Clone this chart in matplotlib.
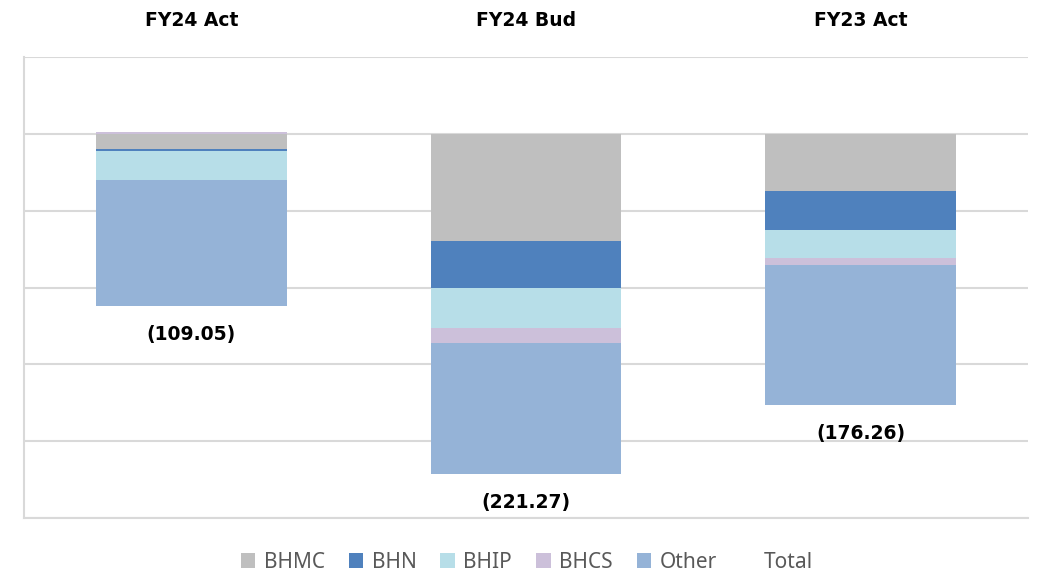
import matplotlib.pyplot as plt
import matplotlib.patches as mpatches
import numpy as np

plt.rcParams['font.family'] = ['Noto Sans', 'DejaVu Sans']
BOLD_FONT = ['DejaVu Sans']

# data (values in the chart's units)
categories = ['FY24 Act', 'FY24 Bud', 'FY23 Act']
series = ['BHMC', 'BHN', 'BHIP', 'BHCS', 'Other']
bhmc = [-10.0, -69.9, -37.5]
bhn = [-1.3, -30.4, -25.2]
bhip = [-19.0, -25.9, -18.1]
bhcs = [1.2, -9.7, -4.5]
other = [-81.5, -85.4, -91.0]
totals = [-109.05, -221.27, -176.26]

colors = ['#BFBFBF', '#4F81BD', '#B7DEE8', '#CCC0DA', '#95B3D7']
values = [bhmc, bhn, bhip, bhcs, other]

fig = plt.figure(figsize=(10.43, 5.76), dpi=100)
ax = fig.add_axes([0.023, 0.1007, 0.9627, 0.8003])

x = np.arange(len(categories))
pos_bottom = np.zeros(len(categories))
neg_bottom = np.zeros(len(categories))
for name, vals, c in zip(series, values, colors):
    vals = np.array(vals)
    bottom = np.where(vals >= 0, pos_bottom, neg_bottom)
    ax.bar(x, vals, width=0.57, bottom=bottom, color=c, label=name, zorder=3)
    pos_bottom = pos_bottom + np.where(vals >= 0, vals, 0)
    neg_bottom = neg_bottom + np.where(vals < 0, vals, 0)

# total labels under each bar
for xi, bot, t in zip(x, neg_bottom, totals):
    ax.annotate('({:.2f})'.format(abs(t)), (xi, bot), xytext=(0, -14),
                textcoords='offset points', ha='center', va='top',
                fontsize=13.5, fontweight='bold', family=BOLD_FONT,
                color='black')

ax.set_xlim(-0.5, 2.5)
ax.set_ylim(-250, 50)
ax.set_yticks(np.arange(-250, 51, 50))
ax.yaxis.grid(True, color='#D9D9D9', linewidth=1.5, zorder=0)
ax.tick_params(axis='y', left=False, labelleft=False)

ax.xaxis.tick_top()
ax.set_xticks(x)
ax.set_xticklabels(categories, fontsize=13.5, fontweight='bold',
                   family=BOLD_FONT)
ax.tick_params(axis='x', top=False, pad=16)

for s in ['top', 'right']:
    ax.spines[s].set_visible(False)
for s in ['left', 'bottom']:
    ax.spines[s].set_color('#D9D9D9')
    ax.spines[s].set_linewidth(1.5)

handles, labels = ax.get_legend_handles_labels()
handles.append(mpatches.Patch(color='none'))
labels.append('Total')
fig.legend(handles, labels, loc='lower center', bbox_to_anchor=(0.505, -0.027),
           ncol=6, frameon=False, fontsize=15, labelcolor='#595959',
           handlelength=0.7, handleheight=0.7, handletextpad=0.4,
           columnspacing=1.15)

fig.savefig('out.png', dpi=100)
